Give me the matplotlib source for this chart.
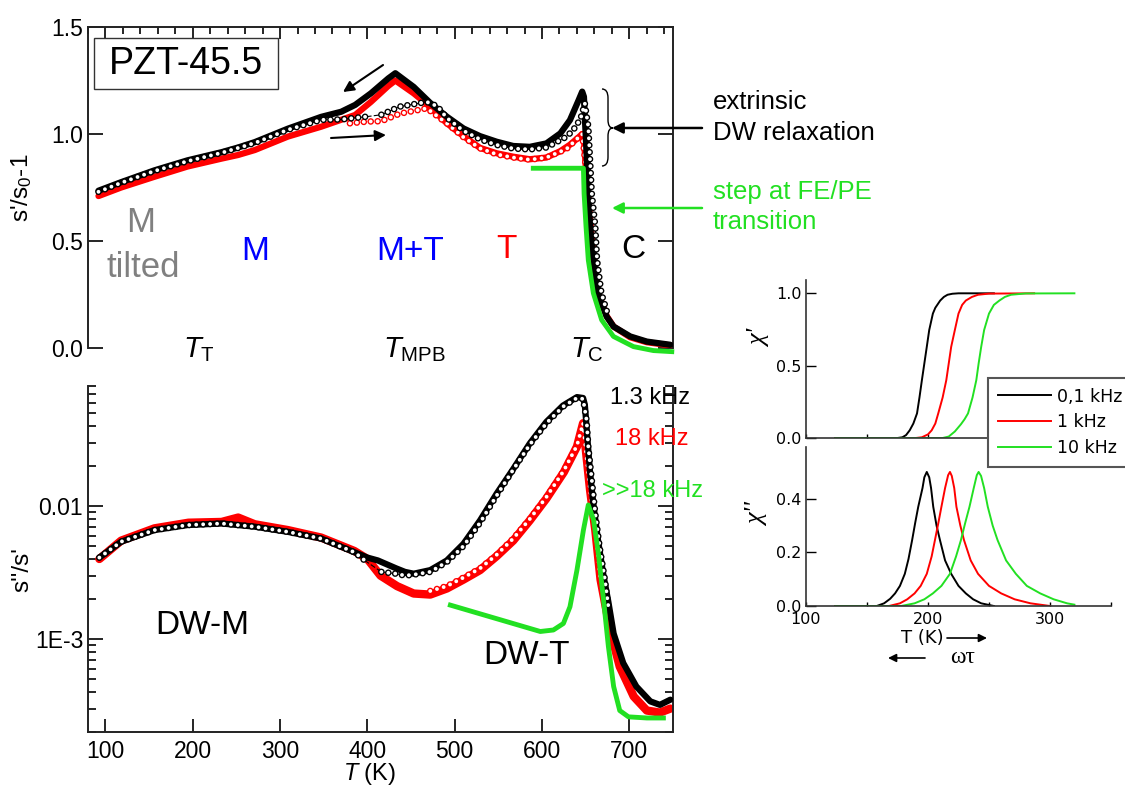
import matplotlib
matplotlib.use('Agg')
import matplotlib.pyplot as plt
from matplotlib.ticker import MultipleLocator, FixedLocator, FixedFormatter, LogLocator, NullFormatter, FormatStrFormatter
from matplotlib.path import Path
from matplotlib.patches import PathPatch, Rectangle

plt.rcParams['font.family'] = ['Liberation Sans', 'DejaVu Sans']
plt.rcParams['mathtext.fontset'] = 'custom'
plt.rcParams['mathtext.rm'] = 'Liberation Sans'
plt.rcParams['mathtext.it'] = 'Liberation Sans:italic'
plt.rcParams['lines.scale_dashes'] = False

GREEN = '#22e022'
RED = '#ff0000'

# ---- upper left: s'/s0 - 1 ----
T_cool_13 = [92, 118, 156, 194, 233, 252, 271, 309, 347, 370, 386, 404, 424, 432, 453, 472, 491, 510,
             529, 548, 567, 586, 605, 621, 632, 642, 646, 648, 649, 651, 653, 655, 659, 664, 674, 682,
             701, 720, 747]
s_cool_13 = [0.735, 0.775, 0.83, 0.877, 0.915, 0.937, 0.962, 1.025, 1.08, 1.104, 1.136, 1.19, 1.26, 1.284,
             1.22, 1.145, 1.081, 1.026, 0.99, 0.964, 0.944, 0.940, 0.956, 1.003, 1.065, 1.159, 1.198, 1.174,
             1.08, 0.91, 0.722, 0.567, 0.411, 0.256, 0.147, 0.10, 0.054, 0.03, 0.015]
T_cool_18 = [92, 118, 156, 194, 233, 252, 271, 309, 347, 386, 404, 424, 432, 453, 468, 491, 510, 529, 548,
             567, 586, 605, 621, 632, 642, 646, 648, 650, 652, 655, 659, 664, 674, 682, 701, 720, 747]
s_cool_18 = [0.71, 0.75, 0.80, 0.848, 0.885, 0.902, 0.925, 0.988, 1.034, 1.089, 1.15, 1.225, 1.25, 1.19,
             1.14, 1.05, 0.99, 0.935, 0.91, 0.894, 0.882, 0.89, 0.92, 0.95, 0.985, 1.0, 0.98, 0.85, 0.74,
             0.58, 0.42, 0.26, 0.15, 0.10, 0.05, 0.027, 0.012]
T_heat_13a = [92, 118, 156, 194, 233, 252, 271, 309, 347, 370, 385, 399]
s_heat_13a = [0.73, 0.772, 0.827, 0.873, 0.912, 0.935, 0.958, 1.02, 1.066, 1.068, 1.075, 1.081]
T_heat_13b = [416, 437, 447, 468, 480, 491, 510, 529, 548, 567, 586, 605, 628, 636, 644, 649, 653, 655,
              657, 661, 663, 668, 676]
s_heat_13b = [1.09, 1.128, 1.135, 1.15, 1.13, 1.075, 1.015, 0.975, 0.949, 0.932, 0.928, 0.937, 0.987, 1.02,
              1.07, 1.143, 1.034, 0.879, 0.722, 0.567, 0.411, 0.256, 0.147]
T_heat_18 = [380, 399, 416, 437, 468, 491, 510, 529, 548, 567, 586, 605, 628, 642, 646, 650, 653, 656, 660, 664]
s_heat_18 = [1.05, 1.058, 1.06, 1.095, 1.12, 1.05, 0.985, 0.933, 0.905, 0.89, 0.88, 0.89, 0.93, 0.985, 1.0,
             0.85, 0.72, 0.56, 0.40, 0.25]
T_step = [590, 647.4, 648.2, 650.4, 653, 658.8, 668.3, 681.8, 704.7, 727.6, 748.6]
s_step = [0.84, 0.84, 0.72, 0.567, 0.411, 0.256, 0.131, 0.054, 0.0065, -0.012, -0.017]

# ---- lower left: s''/s' ----
T_loss_c13 = [93, 118, 156, 194, 233, 271, 309, 347, 385, 400, 412, 433, 443, 453, 472, 491, 510, 529, 548,
              567, 586, 605, 624, 640, 647, 649, 650, 652, 655, 659, 664, 670, 676, 682, 693, 708, 724, 735, 747]
l_loss_c13 = [0.0041, 0.0054, 0.0066, 0.0072, 0.0074, 0.0070, 0.0064, 0.0057, 0.0045, 0.0041, 0.0039, 0.0034,
              0.0032, 0.0031, 0.0033, 0.0039, 0.0052, 0.0078, 0.0124, 0.019, 0.0296, 0.043, 0.057, 0.066, 0.065,
              0.058, 0.048, 0.032, 0.018, 0.0100, 0.0056, 0.0031, 0.0019, 0.0011, 0.00066, 0.00044, 0.00034,
              0.00032, 0.00035]
T_loss_h13a = [93, 118, 156, 194, 233, 271, 309, 347, 385, 397]
l_loss_h13a = [0.0041, 0.0054, 0.0066, 0.0072, 0.0074, 0.0070, 0.0064, 0.0057, 0.0045, 0.0039]
T_loss_h13b = [416, 433, 443, 453, 472, 491, 510, 529, 548, 567, 586, 605, 624, 640, 647, 651, 653, 657, 661,
               666, 672, 676]
l_loss_h13b = [0.0032, 0.0031, 0.0030, 0.00305, 0.0032, 0.0038, 0.0050, 0.0075, 0.012, 0.0188, 0.029, 0.042,
               0.056, 0.065, 0.064, 0.0444, 0.0279, 0.0157, 0.0088, 0.0049, 0.0028, 0.00175]
T_loss_c18 = [93, 118, 156, 195, 233, 252, 271, 309, 347, 385, 400, 415, 434, 453, 472, 491, 510, 529, 548,
              567, 586, 605, 625, 640, 647, 651, 655, 661, 667, 678, 689, 705, 720, 735, 747]
l_loss_c18 = [0.0040, 0.0055, 0.0068, 0.0075, 0.0076, 0.0082, 0.0073, 0.0066, 0.0058, 0.0046, 0.0040, 0.0030,
              0.0025, 0.0022, 0.00216, 0.0024, 0.0028, 0.0033, 0.0042, 0.0055, 0.0078, 0.0114, 0.018, 0.028,
              0.042, 0.0234, 0.0132, 0.0066, 0.0028, 0.00117, 0.00062, 0.00037, 0.00029, 0.00028, 0.00030]
T_loss_h18 = [472, 491, 510, 529, 548, 567, 586, 605, 625, 640, 647, 651, 655, 661, 667]
l_loss_h18 = [0.0023, 0.0025, 0.0029, 0.0034, 0.0043, 0.0057, 0.008, 0.0117, 0.0185, 0.0285, 0.042, 0.0234,
              0.0132, 0.0066, 0.0028]
T_loss_hf = [495, 598, 613, 624.5, 632, 640, 647.4, 653, 659, 664.5, 670, 676, 682, 689, 699, 720, 739]
l_loss_hf = [0.0018, 0.00114, 0.00117, 0.00131, 0.00175, 0.0033, 0.0066, 0.0102, 0.0079, 0.0044, 0.0021,
             0.00088, 0.00044, 0.00029, 0.00026, 0.000255, 0.000255]

# ---- right: model chi' and chi'' ----
chi_labels = ['0,1 kHz', '1 kHz', '10 kHz']
chi_colors = ['black', RED, GREEN]
T_re_01 = [124, 175, 179, 182, 185, 188, 191, 193, 195, 197, 199, 201, 204, 206, 210, 213, 216, 220, 225, 254]
re_01 = [0, 0, 0.005, 0.02, 0.053, 0.1, 0.17, 0.28, 0.40, 0.515, 0.63, 0.746, 0.86, 0.9, 0.95, 0.975, 0.99,
         0.997, 1.0, 1.0]
T_re_1 = [124, 190, 195, 200, 203, 206, 208.4, 212, 215, 217, 219, 222, 225, 228, 231, 236, 241, 250, 287]
re_1 = [0, 0, 0.005, 0.025, 0.053, 0.1, 0.17, 0.28, 0.40, 0.515, 0.63, 0.746, 0.86, 0.92, 0.95, 0.975, 0.99,
        0.998, 1.0]
T_re_10 = [124, 212, 217, 222, 227, 230, 232.8, 236.5, 239.6, 241.5, 243.6, 246, 250, 254, 258.5, 263, 268,
           280, 320]
re_10 = [0, 0, 0.01, 0.045, 0.095, 0.13, 0.17, 0.28, 0.40, 0.515, 0.63, 0.746, 0.86, 0.92, 0.95, 0.975, 0.99,
         0.999, 1.0]

T_im_01 = [124, 158, 164, 169, 173, 177, 181, 184, 187, 189.5, 192, 195.5, 197, 199, 201, 202.5, 204.3, 207,
           209.8, 214, 219, 225, 231, 237, 243.6, 254]
im_01 = [0, 0, 0.01, 0.027, 0.047, 0.075, 0.12, 0.175, 0.246, 0.31, 0.37, 0.44, 0.48, 0.5, 0.48, 0.44, 0.37,
         0.30, 0.246, 0.17, 0.12, 0.075, 0.047, 0.025, 0.01, 0.0]
T_im_1 = [124, 168, 177, 183, 189, 194, 199, 203, 205.7, 208.5, 211, 214, 216.5, 218, 219.5, 221.5, 223.3,
          226.5, 229.5, 235, 241, 250, 260, 271, 284, 300]
im_1 = [0, 0, 0.01, 0.025, 0.047, 0.075, 0.12, 0.185, 0.246, 0.31, 0.37, 0.44, 0.488, 0.5, 0.485, 0.44, 0.37,
        0.30, 0.246, 0.17, 0.12, 0.075, 0.047, 0.025, 0.01, 0.0]
T_im_10 = [124, 178, 189, 197, 204, 211, 218, 223, 227, 230.5, 234, 237.5, 240, 241.5, 243.5, 246, 249, 253,
           257, 264, 272, 281, 292, 303, 314, 320]
im_10 = [0, 0, 0.01, 0.025, 0.047, 0.075, 0.12, 0.185, 0.246, 0.31, 0.37, 0.44, 0.488, 0.5, 0.485, 0.44, 0.37,
         0.30, 0.246, 0.17, 0.12, 0.075, 0.047, 0.025, 0.01, 0.005]


def box(l, t, r, b):
    return [l / 1125, 1 - b / 787, (r - l) / 1125, (b - t) / 787]


def open_marks(ax, x, y, color, z, gap=5.0):
    # dense open circles along the measured curve
    ax.plot(x, y, color=color, lw=4.8, ls=(0, (0.01, gap)), dash_capstyle='round', zorder=z)
    ax.plot(x, y, color='white', lw=2.8, ls=(0, (0.01, gap)), dash_capstyle='round', zorder=z)


def filled_marks(ax, x, y, color, z, lw=4.5):
    ax.plot(x, y, color=color, lw=lw, solid_capstyle='round', solid_joinstyle='round', zorder=z)


fig = plt.figure(figsize=(11.25, 7.87), dpi=100)
ax1 = fig.add_axes(box(88, 27, 673, 348))
ax2 = fig.add_axes(box(88, 386, 673, 732))
ax3 = fig.add_axes(box(806, 280, 1111, 438))
ax4 = fig.add_axes(box(806, 447, 1111, 606))

for ax in (ax1, ax2):
    for sp in ax.spines.values():
        sp.set_linewidth(1.4)
        sp.set_color('#222222')
    ax.set_xlim(80, 750)
for ax in (ax3, ax4):
    for sp in ax.spines.values():
        sp.set_linewidth(1.2)
        sp.set_color('#333333')
    ax.spines['top'].set_visible(False)
    ax.spines['right'].set_visible(False)
    ax.set_xlim(100, 350)

# ---------- upper left ----------
filled_marks(ax1, T_cool_18, s_cool_18, RED, 2)
open_marks(ax1, T_heat_18, s_heat_18, RED, 3)
filled_marks(ax1, T_cool_13, s_cool_13, 'black', 4)
ax1.plot(T_heat_13a + T_heat_13b, s_heat_13a + s_heat_13b, 'k--', lw=0.8, zorder=4)
open_marks(ax1, T_heat_13a, s_heat_13a, 'black', 5)
open_marks(ax1, T_heat_13b, s_heat_13b, 'black', 5)
ax1.plot(T_step, s_step, color=GREEN, lw=3.5, zorder=6, clip_on=False)

ax1.set_ylim(0, 1.5)
ax1.spines['bottom'].set_visible(False)
ax1.xaxis.set_major_locator(MultipleLocator(100))
ax1.xaxis.set_minor_locator(MultipleLocator(20))
ax1.tick_params(axis='x', which='both', direction='in', top=True, bottom=False,
                labelbottom=False, labeltop=False, width=1.2)
ax1.tick_params(axis='x', which='major', length=8.5)
ax1.tick_params(axis='x', which='minor', length=4.8)
ax1.set_yticks([0, 0.5, 1.0, 1.5])
ax1.yaxis.set_major_formatter(FormatStrFormatter('%.1f'))
ax1.tick_params(axis='y', direction='in', left=True, right=True, length=10.5, width=1.2, labelsize=16.5)
ax1.set_ylabel("s'/s$_0$-1", fontsize=17.5)
ax1.yaxis.set_label_coords(-0.093, 0.5)

ax1.add_patch(Rectangle((0.0103, 0.8069), 0.3145, 0.1589, transform=ax1.transAxes, fc='white',
                        ec='#333333', lw=1.0, zorder=7))
ax1.text(0.1675, 0.885, 'PZT-45.5', transform=ax1.transAxes, fontsize=27, ha='center', va='center', zorder=8)
ax1.text(0.0906, 0.3925, 'M', transform=ax1.transAxes, fontsize=25, color='#808080', ha='center', va='center')
ax1.text(0.094, 0.2523, 'tilted', transform=ax1.transAxes, fontsize=25, color='#808080', ha='center', va='center')
ax1.text(0.2855, 0.2991, 'M', transform=ax1.transAxes, fontsize=24, color='#0000ff', ha='center', va='center')
ax1.text(0.5504, 0.2991, 'M+T', transform=ax1.transAxes, fontsize=24, color='#0000ff', ha='center', va='center')
ax1.text(0.7145, 0.3053, 'T', transform=ax1.transAxes, fontsize=24, color=RED, ha='center', va='center')
ax1.text(0.9316, 0.3053, 'C', transform=ax1.transAxes, fontsize=24, color='black', ha='center', va='center')
for xf, lab in ((0.1897, r'$T_\mathrm{T}$'), (0.5573, r'$T_\mathrm{MPB}$'), (0.8521, r'$T_\mathrm{C}$')):
    ax1.text(xf, -0.028, lab, transform=ax1.transAxes, fontsize=21, ha='center', va='baseline')

arrow_k = dict(arrowstyle='-|>', color='black', lw=1.5, mutation_scale=16, shrinkA=0, shrinkB=0)
ax1.annotate('', xy=(0.4359, 0.7975), xytext=(0.5043, 0.8816), xycoords='axes fraction',
             textcoords='axes fraction', arrowprops=arrow_k)
ax1.annotate('', xy=(0.5094, 0.6636), xytext=(0.4154, 0.6542), xycoords='axes fraction',
             textcoords='axes fraction', arrowprops=arrow_k)
ax1.annotate('', xy=(0.8957, 0.6854), xytext=(1.0496, 0.6854), xycoords='axes fraction',
             textcoords='axes fraction', annotation_clip=False,
             arrowprops=dict(arrowstyle='-|>', color='black', lw=1.8, mutation_scale=16, shrinkA=0, shrinkB=0))
ax1.annotate('', xy=(0.8957, 0.4361), xytext=(1.0496, 0.4361), xycoords='axes fraction',
             textcoords='axes fraction', annotation_clip=False,
             arrowprops=dict(arrowstyle='-|>', color=GREEN, lw=1.8, mutation_scale=16, shrinkA=0, shrinkB=0))
brace = Path([(0.8786, 0.8069), (0.8889, 0.8069), (0.8889, 0.7788), (0.8889, 0.7103),
              (0.8889, 0.6854), (0.8974, 0.6854), (0.8889, 0.6854), (0.8889, 0.6604),
              (0.8889, 0.5950), (0.8889, 0.5670), (0.8786, 0.5670)],
             [Path.MOVETO, Path.CURVE3, Path.CURVE3, Path.LINETO, Path.CURVE3, Path.CURVE3,
              Path.CURVE3, Path.CURVE3, Path.LINETO, Path.CURVE3, Path.CURVE3])
ax1.add_patch(PathPatch(brace, transform=ax1.transAxes, fill=False, lw=1.0, ec='black'))
ax1.text(1.0684, 0.7664, 'extrinsic', transform=ax1.transAxes, fontsize=18.5, va='center')
ax1.text(1.0684, 0.6698, 'DW relaxation', transform=ax1.transAxes, fontsize=18.5, va='center')
ax1.text(1.0684, 0.486, 'step at FE/PE', transform=ax1.transAxes, fontsize=18.5, va='center', color=GREEN)
ax1.text(1.0684, 0.3925, 'transition', transform=ax1.transAxes, fontsize=18.5, va='center', color=GREEN)

# ---------- lower left ----------
ax2.set_yscale('log')
filled_marks(ax2, T_loss_c18, l_loss_c18, RED, 2, lw=6)
open_marks(ax2, T_loss_h18, l_loss_h18, RED, 3)
filled_marks(ax2, T_loss_c13, l_loss_c13, 'black', 4)
ax2.plot(T_loss_h13a + T_loss_h13b, l_loss_h13a + l_loss_h13b, 'k--', lw=0.8, zorder=4)
open_marks(ax2, T_loss_h13a, l_loss_h13a, 'black', 5)
open_marks(ax2, T_loss_h13b, l_loss_h13b, 'black', 5)
ax2.plot(T_loss_hf, l_loss_hf, color=GREEN, lw=3.5, zorder=6)

ax2.set_ylim(2e-4, 0.08)
ax2.spines['top'].set_visible(False)
ax2.yaxis.set_major_locator(FixedLocator([1e-3, 1e-2]))
ax2.yaxis.set_major_formatter(FixedFormatter(['1E-3', '0.01']))
ax2.yaxis.set_minor_locator(LogLocator(base=10, subs=range(2, 10), numticks=20))
ax2.yaxis.set_minor_formatter(NullFormatter())
ax2.tick_params(axis='y', which='both', direction='in', left=True, right=True, width=1.2, labelsize=16.5)
ax2.tick_params(axis='y', which='major', length=10.5)
ax2.tick_params(axis='y', which='minor', length=6)
ax2.xaxis.set_major_locator(MultipleLocator(100))
ax2.tick_params(axis='x', direction='in', top=False, length=9.5, width=1.2, labelsize=16.5, pad=6)
ax2.set_ylabel("s''/s'", fontsize=17.5)
ax2.yaxis.set_label_coords(-0.093, 0.47)
ax2.set_xlabel('$T$ (K)', fontsize=17)
ax2.xaxis.set_label_coords(0.482, -0.085)

ax2.text(0.1949, 0.3064, 'DW-M', transform=ax2.transAxes, fontsize=24, ha='center', va='center')
ax2.text(0.7504, 0.2225, 'DW-T', transform=ax2.transAxes, fontsize=24, ha='center', va='center')
ax2.text(0.8923, 0.9653, '1.3 kHz', transform=ax2.transAxes, fontsize=17, va='center')
ax2.text(0.9009, 0.8468, '18 kHz', transform=ax2.transAxes, fontsize=17, va='center', color=RED)
ax2.text(0.8786, 0.6965, '>>18 kHz', transform=ax2.transAxes, fontsize=17, va='center', color=GREEN)

# ---------- right: chi' ----------
for T, v, c in zip((T_re_01, T_re_1, T_re_10), (re_01, re_1, re_10), chi_colors):
    ax3.plot(T, v, color=c, lw=1.4)
ax3.set_ylim(0, 1.092)
ax3.set_yticks([0, 0.5, 1.0])
ax3.yaxis.set_major_formatter(FormatStrFormatter('%.1f'))
ax3.xaxis.set_major_locator(MultipleLocator(50))
ax3.tick_params(axis='x', direction='in', length=3, width=1.0, labelbottom=False)
ax3.tick_params(axis='y', direction='in', length=7, width=1.0, labelsize=11.5,
                labelfontfamily='DejaVu Sans', pad=3)
ax3.set_ylabel("χ'", fontsize=19, family=['Liberation Serif', 'DejaVu Serif'], style='italic')
ax3.yaxis.set_label_coords(-0.115, 0.633)

# ---------- right: chi'' ----------
handles = []
for T, v, c, lab in zip((T_im_01, T_im_1, T_im_10), (im_01, im_1, im_10), chi_colors, chi_labels):
    h, = ax4.plot(T, v, color=c, lw=1.4, label=lab)
    handles.append(h)
ax4.set_ylim(0, 0.593)
ax4.set_yticks([0, 0.2, 0.4])
ax4.yaxis.set_major_formatter(FormatStrFormatter('%.1f'))
ax4.xaxis.set_major_locator(MultipleLocator(100))
ax4.xaxis.set_minor_locator(MultipleLocator(50))
ax4.tick_params(axis='x', which='both', direction='in', length=3, width=1.0, labelsize=11.5,
                labelfontfamily='DejaVu Sans', pad=4)
ax4.tick_params(axis='y', direction='in', length=7, width=1.0, labelsize=11.5,
                labelfontfamily='DejaVu Sans', pad=3)
ax4.set_ylabel("χ''", fontsize=19, family=['Liberation Serif', 'DejaVu Serif'], style='italic')
ax4.yaxis.set_label_coords(-0.122, 0.572)

ax4.text(0.3803, -0.2013, 'T (K)', transform=ax4.transAxes, fontsize=13, family='DejaVu Sans',
         ha='center', va='center')
arrow_s = dict(arrowstyle='-|>', color='black', lw=1.2, mutation_scale=12, shrinkA=0, shrinkB=0)
ax4.annotate('', xy=(0.5934, -0.2013), xytext=(0.4623, -0.2013), xycoords='axes fraction',
             textcoords='axes fraction', annotation_clip=False, arrowprops=arrow_s)
ax4.annotate('', xy=(0.2689, -0.327), xytext=(0.3902, -0.327), xycoords='axes fraction',
             textcoords='axes fraction', annotation_clip=False, arrowprops=arrow_s)
ax4.text(0.5148, -0.327, 'ωτ', transform=ax4.transAxes, fontsize=17,
         family=['Liberation Serif', 'DejaVu Serif'], ha='center', va='center')

leg = fig.legend(handles, chi_labels, loc='upper left', bbox_to_anchor=(988 / 1125, 1 - 378 / 787),
                 bbox_transform=fig.transFigure, frameon=True, fancybox=False, framealpha=1,
                 edgecolor='#555555', borderaxespad=0, borderpad=0.55, handlelength=3.1,
                 handletextpad=0.3, labelspacing=0.45, prop={'family': 'DejaVu Sans', 'size': 12.5})
leg.get_frame().set_linewidth(1.5)

fig.savefig('out.png', dpi=100)
